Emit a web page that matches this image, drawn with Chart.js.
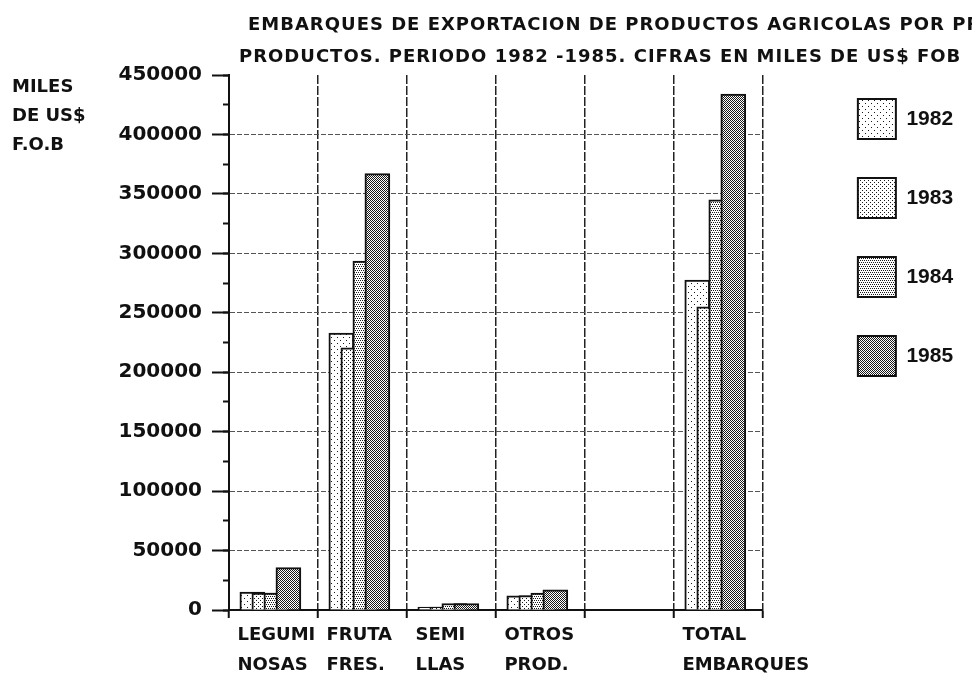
<!DOCTYPE html>
<html>
<head>
<meta charset="utf-8">
<script src="https://cdn.jsdelivr.net/npm/chart.js@4.4.1/dist/chart.umd.min.js"></script>
<style>
  body { margin: 0; background: #fff; }
  canvas { display: block; }
</style>
</head>
<body>
<canvas id="exportChart" width="972" height="692"></canvas>
<script>
// Data (miles de US$ FOB)
const categories = [['LEGUMI', 'NOSAS'], ['FRUTA', 'FRES.'], ['SEMI', 'LLAS'], ['OTROS', 'PROD.'], '', ['TOTAL', 'EMBARQUES']];
const years = ['1982', '1983', '1984', '1985'];
const values1982 = [15000, 233000, 2500, 12000, null, 277500];
const values1983 = [14200, 220500, 2500, 12200, null, 255000];
const values1984 = [14200, 293500, 5500, 14200, null, 345000];
const values1985 = [35600, 367000, 5500, 17000, null, 434000];
const yMin = 0;
const yMax = 450000;
const yStep = 50000;
const titleLines = [
    'EMBARQUES DE EXPORTACION DE PRODUCTOS AGRICOLAS POR PRINCIPALES',
    'PRODUCTOS. PERIODO 1982 -1985. CIFRAS EN MILES DE US$ FOB'
];
const unitLines = ['MILES', 'DE US$', 'F.O.B'];

const BAR_STEP = 0.135;   // overlap step between years, in category widths
const INK = '#111';

// dotted fills like the old plotter shading
function makePattern(w, h, dots) {
    const c = document.createElement('canvas');
    c.width = w; c.height = h;
    const g = c.getContext('2d');
    g.fillStyle = '#fff';
    g.fillRect(0, 0, w, h);
    g.fillStyle = '#1a1a1a';
    dots.forEach(function(d) { g.fillRect(d[0], d[1], 1, 1); });
    return g.createPattern(c, 'repeat');
}
const fills = [
    makePattern(6, 6, [[1, 1], [4, 4]]),
    makePattern(4, 4, [[0, 0], [2, 2]]),
    makePattern(4, 4, [[0, 0], [2, 0], [1, 2], [3, 2]]),
    makePattern(2, 2, [[0, 0], [1, 1]])
];

const series = [values1982, values1983, values1984, values1985];
const datasets = years.map(function(year, k) {
    const points = [];
    series[k].forEach(function(v, i) {
        if (v !== null) points.push({ x: i + (k - 1.5) * BAR_STEP - 0.035, y: v });
    });
    return {
        label: year,
        data: points,
        xAxisID: 'xl',
        yAxisID: 'y',
        backgroundColor: fills[k],
        borderColor: INK,
        borderWidth: 2,
        barThickness: 25,
        grouped: false,
        order: years.length - k
    };
});

// title and unit label drawn onto the canvas
const headerText = {
    id: 'headerText',
    afterLayout(chart) {
        // legend clips to its own box, which is narrower than its padded content
        const lg = chart.legend;
        lg.right = chart.width;
        lg.width = lg.right - lg.left;
    },
    afterDraw(chart) {
        const ctx = chart.ctx;
        ctx.save();
        ctx.fillStyle = INK;
        ctx.textBaseline = 'middle';
        ctx.textAlign = 'left';
        ctx.font = 'bold 18px "DejaVu Sans"';
        ctx.letterSpacing = '1px';
        ctx.fillText(titleLines[0], 248, 25);
        ctx.fillText(titleLines[1], 239, 57);
        ctx.letterSpacing = '0px';
        unitLines.forEach(function(t, i) { ctx.fillText(t, 12, 87 + i * 29); });
        ctx.restore();
    }
};

document.addEventListener('DOMContentLoaded', function() {
    const canvas = document.getElementById('exportChart');
    new Chart(canvas, {
        type: 'bar',
        data: { labels: categories, datasets: datasets },
        plugins: [headerText],
        options: {
            responsive: false,
            animation: false,
            devicePixelRatio: 1,
            layout: { padding: { top: 60, left: 118, right: 53, bottom: 10 } },
            plugins: {
                title: { display: true, text: '', padding: 0, font: { size: 15, lineHeight: 1 } },
                tooltip: { enabled: false },
                legend: {
                    position: 'right',
                    align: 'start',
                    labels: {
                        boxWidth: 38,
                        boxHeight: 40,
                        padding: 39,
                        color: INK,
                        font: { family: '"Liberation Sans"', size: 21, weight: 'bold' },
                        sort: function(a, b) { return a.datasetIndex - b.datasetIndex; }
                    }
                }
            },
            scales: {
                x: {
                    type: 'category',
                    labels: categories,
                    offset: true,
                    grid: { offset: true, color: '#222', lineWidth: 1.5, tickColor: INK, tickLength: 8, tickWidth: 2 },
                    border: { color: INK, width: 2, dash: [9, 2] },
                    ticks: {
                        autoSkip: false,
                        maxRotation: 0,
                        minRotation: 0,
                        align: 'start',
                        labelOffset: -36,
                        padding: 2,
                        color: INK,
                        font: { family: '"DejaVu Sans"', size: 18, weight: 'bold', lineHeight: '30px' }
                    }
                },
                xl: {
                    type: 'linear',
                    display: false,
                    offset: false,
                    grid: { offset: false },
                    min: -0.5,
                    max: categories.length - 0.5
                },
                y: {
                    type: 'linear',
                    position: 'left',
                    min: yMin,
                    max: yMax,
                    afterFit: function(s) { s.width = 111; },
                    grid: {
                        color: function(c) { return c.tick && c.tick.value === yMax ? 'rgba(0,0,0,0)' : '#555'; },
                        lineWidth: 1,
                        tickColor: INK,
                        tickLength: 17,
                        tickWidth: 2
                    },
                    border: { color: INK, width: 2, dash: [5, 2] },
                    ticks: {
                        stepSize: yStep,
                        padding: 10,
                        color: INK,
                        font: { family: '"DejaVu Sans"', size: 20, weight: 'bold' },
                        callback: function(v) { return String(v); }
                    }
                },
                // short minor ticks half way between the labelled ones
                yMinor: {
                    type: 'linear',
                    axis: 'y',
                    position: { xl: -0.5 },
                    min: yMin,
                    max: yMax,
                    grid: { drawOnChartArea: false, tickColor: INK, tickLength: 6, tickWidth: 2 },
                    border: { display: false },
                    ticks: { display: false, stepSize: yStep / 2 }
                },
                // empty strip between plot and legend
                gap: {
                    type: 'linear',
                    axis: 'y',
                    position: 'right',
                    grid: { display: false },
                    border: { display: false },
                    ticks: { display: false },
                    afterFit: function(s) { s.width = 56; }
                }
            }
        }
    });
});
</script>
</body>
</html>
